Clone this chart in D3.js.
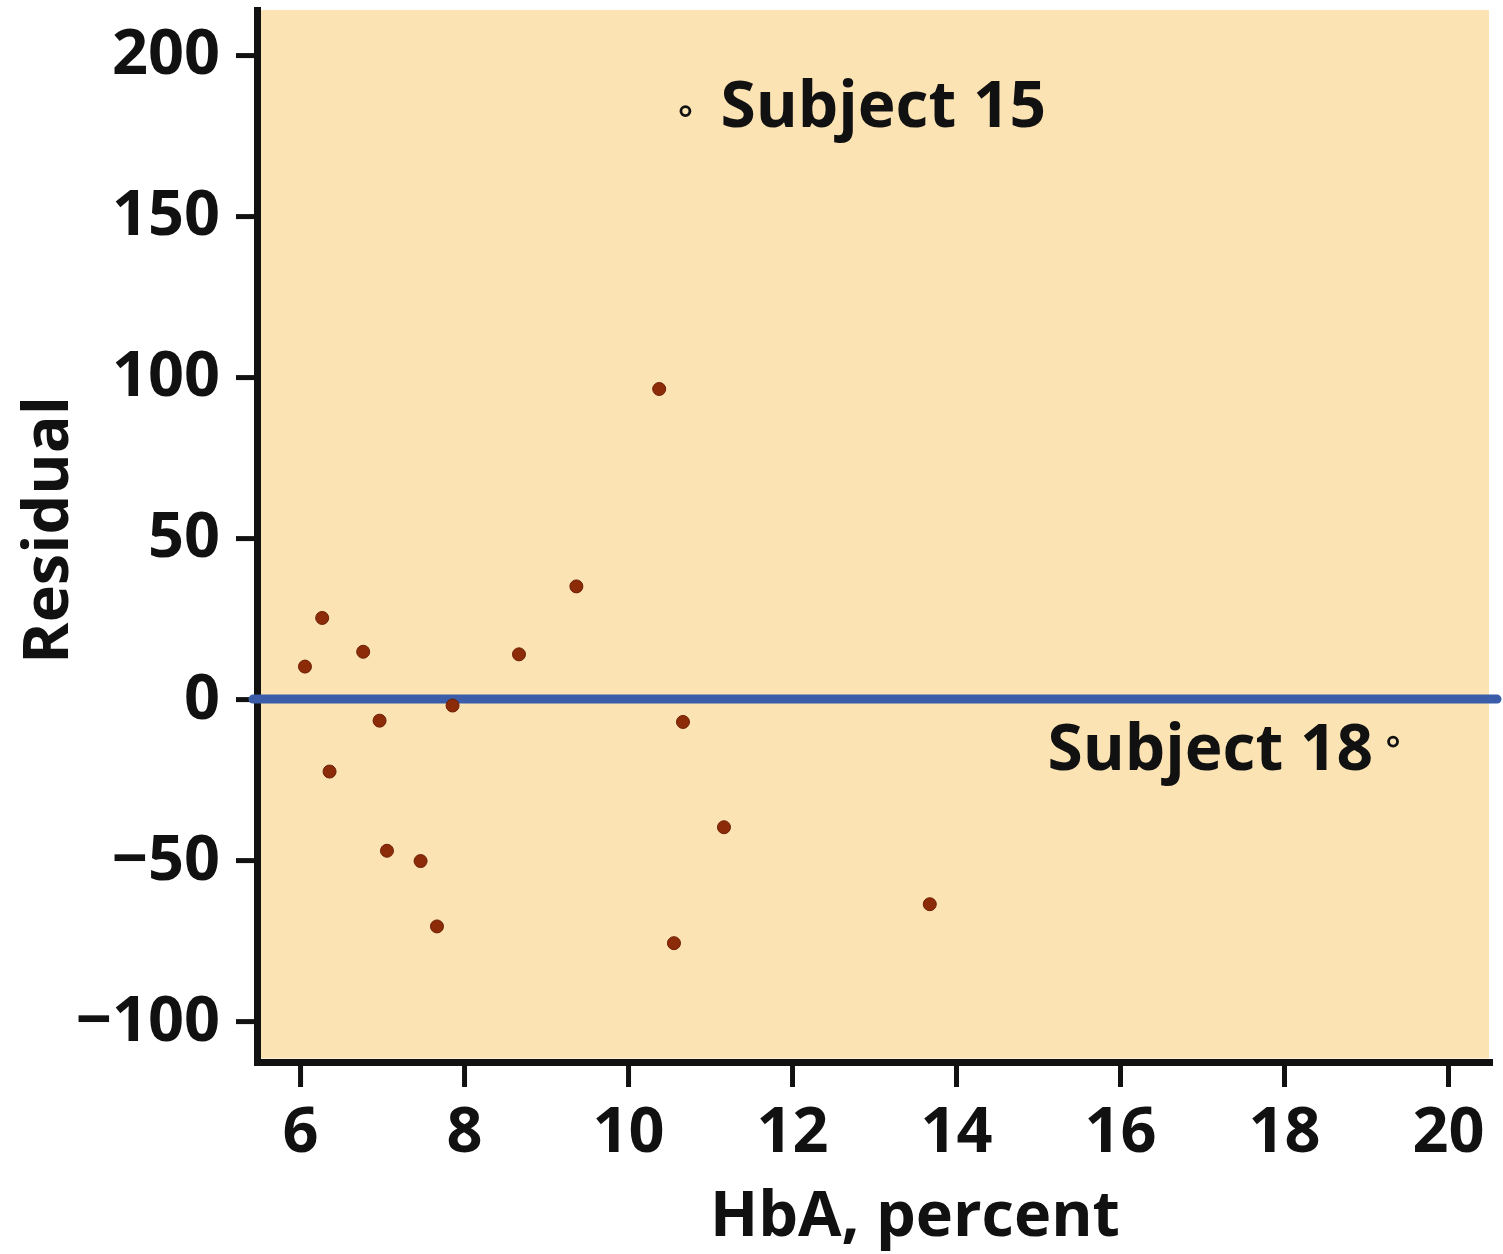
<!DOCTYPE html>
<html>
<head>
<meta charset="utf-8">
<script src="https://cdn.jsdelivr.net/npm/d3@7"></script>
<style>
  html, body { margin: 0; padding: 0; background: #ffffff; }
  svg { display: block; }
  text { font-family: "Open Sans", "Noto Sans", sans-serif; font-weight: 700; fill: #111; }
</style>
</head>
<body>
<script>
// Residuals of the regression against HbA (percent)
const hba      = [6.06, 6.27, 6.36, 6.77, 6.97, 7.06, 7.47, 7.67, 7.86, 8.67, 9.37, 10.38, 10.56, 10.67, 11.17, 13.68];
const residual = [10.1, 25.2, -22.5, 14.7, -6.7, -47.1, -50.3, -70.6, -2.0, 13.9, 35.0, 96.3, -75.8, -7.1, -39.8, -63.7];

// Flagged subjects drawn as open circles
const outlierNames    = ["Subject 15", "Subject 18"];
const outlierHbA      = [10.70, 19.33];
const outlierResidual = [182.6, -13.2];

const xTicks = [6, 8, 10, 12, 14, 16, 18, 20];
const yTicks = [-100, -50, 0, 50, 100, 150, 200];

const W = 1503, H = 1254;
const svg = d3.select("body").append("svg").attr("width", W).attr("height", H);

const x = d3.scaleLinear().domain([5.475, 20.5]).range([257, 1489]);
const y = d3.scaleLinear().domain([-112.7, 214]).range([1062, 10]);

const bg = "#fbe3b4";
const labelSize = 64;

// plot panel
svg.append("rect")
  .attr("x", x.range()[0] + 3.5)
  .attr("y", y.range()[1])
  .attr("width", x.range()[1] - x.range()[0] - 3.5)
  .attr("height", y.range()[0] - y.range()[1] - 3.5)
  .attr("fill", bg);

// axes
const fmt = d3.format("d");
const gy = svg.append("g")
  .attr("transform", `translate(${x.range()[0]},0)`)
  .call(d3.axisLeft(y).tickValues(yTicks).tickFormat(fmt).tickSize(21).tickSizeOuter(0).tickPadding(16));

const gx = svg.append("g")
  .attr("transform", `translate(0,${y.range()[0]})`)
  .call(d3.axisBottom(x).tickValues(xTicks).tickFormat(fmt).tickSize(25).tickSizeOuter(0));

[gy, gx].forEach(g => {
  g.select(".domain").attr("stroke", "#111").attr("stroke-width", 7).attr("stroke-linecap", "square");
  g.selectAll(".tick line").attr("stroke", "#111").attr("stroke-width", 5);
  g.selectAll(".tick text")
    .attr("font-size", 63)
    .attr("font-family", "'Open Sans', 'Noto Sans', sans-serif")
    .attr("font-weight", 700)
    .attr("fill", "#111");
});
gy.selectAll(".tick text").attr("dy", "0.3em");
gx.selectAll(".tick text").attr("y", 90).attr("dy", "0");

// zero reference line, drawn over the y axis
svg.append("line")
  .attr("x1", x.range()[0] - 4).attr("x2", x.range()[1] + 8)
  .attr("y1", y(0)).attr("y2", y(0))
  .attr("stroke", "#3a5ca9").attr("stroke-width", 9)
  .attr("stroke-linecap", "round");

// residual points
svg.append("g").selectAll("circle")
  .data(hba.map((v, i) => ({ x: v, y: residual[i] })))
  .join("circle")
  .attr("cx", d => x(d.x)).attr("cy", d => y(d.y))
  .attr("r", 6.5)
  .attr("fill", "#8c2b07")
  .attr("stroke", "#6e1f05").attr("stroke-width", 1);

// flagged subjects
const outliers = outlierNames.map((n, i) => ({ name: n, x: outlierHbA[i], y: outlierResidual[i] }));
svg.append("g").selectAll("circle")
  .data(outliers)
  .join("circle")
  .attr("cx", d => x(d.x)).attr("cy", d => y(d.y))
  .attr("r", 4.5)
  .attr("fill", bg)
  .attr("stroke", "#111").attr("stroke-width", 2.8);

svg.append("text")
  .attr("x", x(outliers[0].x) + 35).attr("y", y(outliers[0].y) + 16)
  .attr("font-size", labelSize)
  .text(outliers[0].name);

svg.append("text")
  .attr("x", x(outliers[1].x) - 20).attr("y", y(outliers[1].y) + 28)
  .attr("font-size", labelSize)
  .attr("text-anchor", "end")
  .text(outliers[1].name);

// axis titles
svg.append("text")
  .attr("x", 915).attr("y", 1236)
  .attr("text-anchor", "middle")
  .attr("font-size", 63)
  .text("HbA, percent");

svg.append("text")
  .attr("transform", "translate(68,530) rotate(-90)")
  .attr("text-anchor", "middle")
  .attr("font-size", 63)
  .text("Residual");
</script>
</body>
</html>
